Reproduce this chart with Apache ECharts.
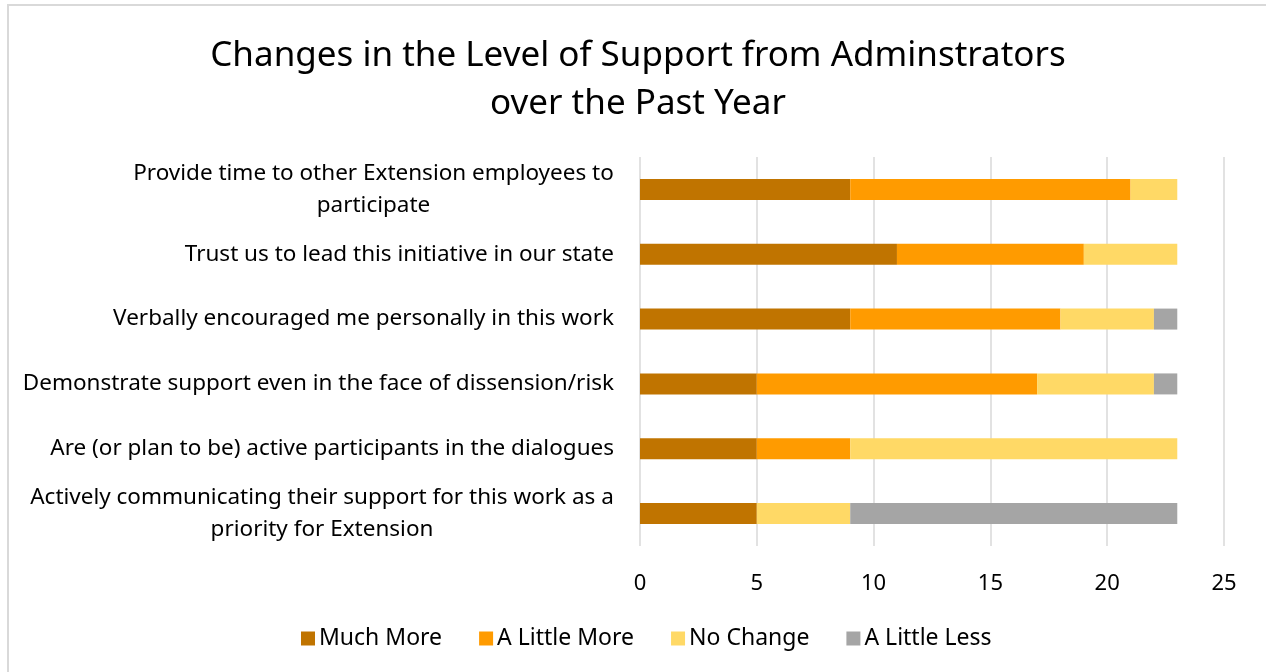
<!DOCTYPE html>
<html><head><meta charset="utf-8">
<script src="https://cdn.jsdelivr.net/npm/echarts@6/dist/echarts.min.js"></script>
<style>
html,body{margin:0;padding:0;background:#fff;}
#frame{position:absolute;left:7px;top:4px;width:1270px;height:680px;border:2px solid #D9D9D9;box-sizing:border-box;}
#c{position:absolute;left:0;top:0;width:1266px;height:672px;}
</style></head>
<body><div id="frame"></div><div id="c"></div>
<script>
const categories = [
  "Provide time to other Extension employees to\nparticipate",
  "Trust us to lead this initiative in our state",
  "Verbally encouraged me personally in this work",
  "Demonstrate support even in the face of dissension/risk",
  "Are (or plan to be) active participants in the dialogues",
  "Actively communicating their support for this work as a\npriority for Extension"
];
const muchMore    = [9, 11, 9, 5, 5, 5];
const aLittleMore = [12, 8, 9, 12, 4, 0];
const noChange    = [2, 4, 4, 5, 14, 4];
const aLittleLess = [0, 0, 1, 1, 0, 14];
const seriesNames = ["Much More", "A Little More", "No Change", "A Little Less"];
const xTicks = [0, 5, 10, 15, 20, 25];

const colors = ["#C07400", "#FF9B00", "#FFD966", "#A5A5A5"];
const fontName = "Noto Sans";
const font = "'Noto Sans', sans-serif";
const labelSize = 22.5;

// measure widths for centered multi-line labels
const cv = document.createElement('canvas').getContext('2d');
cv.font = labelSize + "px '" + fontName + "'";
const rich = {};
const formatted = {};
categories.forEach((c, i) => {
  const lines = c.split('\n');
  if (lines.length > 1) {
    const w = Math.ceil(Math.max(...lines.map(l => cv.measureText(l).width)));
    const key = 'w' + i;
    rich[key] = {width: w, align: 'center', fontFamily: font, fontSize: labelSize, color: '#000', lineHeight: 32};
    formatted[c] = lines.map(l => '{' + key + '|' + l + '}').join('\n');
  } else {
    formatted[c] = c;
  }
});

const chart = echarts.init(document.getElementById('c'));
const seriesData = [muchMore, aLittleMore, noChange, aLittleLess];
chart.setOption({
  animation: false,
  title: {
    text: "Changes in the Level of Support from Adminstrators\nover the Past Year",
    left: 633, top: 27, textAlign: 'center',
    textStyle: {fontFamily: font, fontSize: 35, fontWeight: 'normal', color: '#000', lineHeight: 48}
  },
  legend: {
    bottom: 17, left: 296, itemWidth: 14, itemHeight: 14, itemGap: 37,
    icon: 'rect',
    textStyle: {fontFamily: font, fontSize: 23, color: '#000', padding: [0,0,0,-1]},
    data: seriesNames
  },
  grid: {left: 640, right: 42, top: 157, bottom: 126, containLabel: false},
  xAxis: {
    type: 'value', min: xTicks[0], max: xTicks[xTicks.length-1], interval: 5,
    axisLine: {show: false}, axisTick: {show: false},
    splitLine: {lineStyle: {color: '#D9D9D9', width: 1.5}},
    axisLabel: {fontFamily: font, fontSize: 22, color: '#000', margin: 27}
  },
  yAxis: {
    type: 'category', inverse: true, data: categories,
    axisLine: {show: false}, axisTick: {show: false},
    axisLabel: {fontFamily: font, fontSize: labelSize, color: '#000', margin: 26, align: 'right', lineHeight: 32,
      formatter: v => formatted[v], rich: rich}
  },
  series: seriesNames.map((n, i) => ({
    name: n, type: 'bar', stack: 'total', barWidth: 21,
    itemStyle: {color: colors[i]},
    data: seriesData[i]
  }))
});
</script></body></html>
